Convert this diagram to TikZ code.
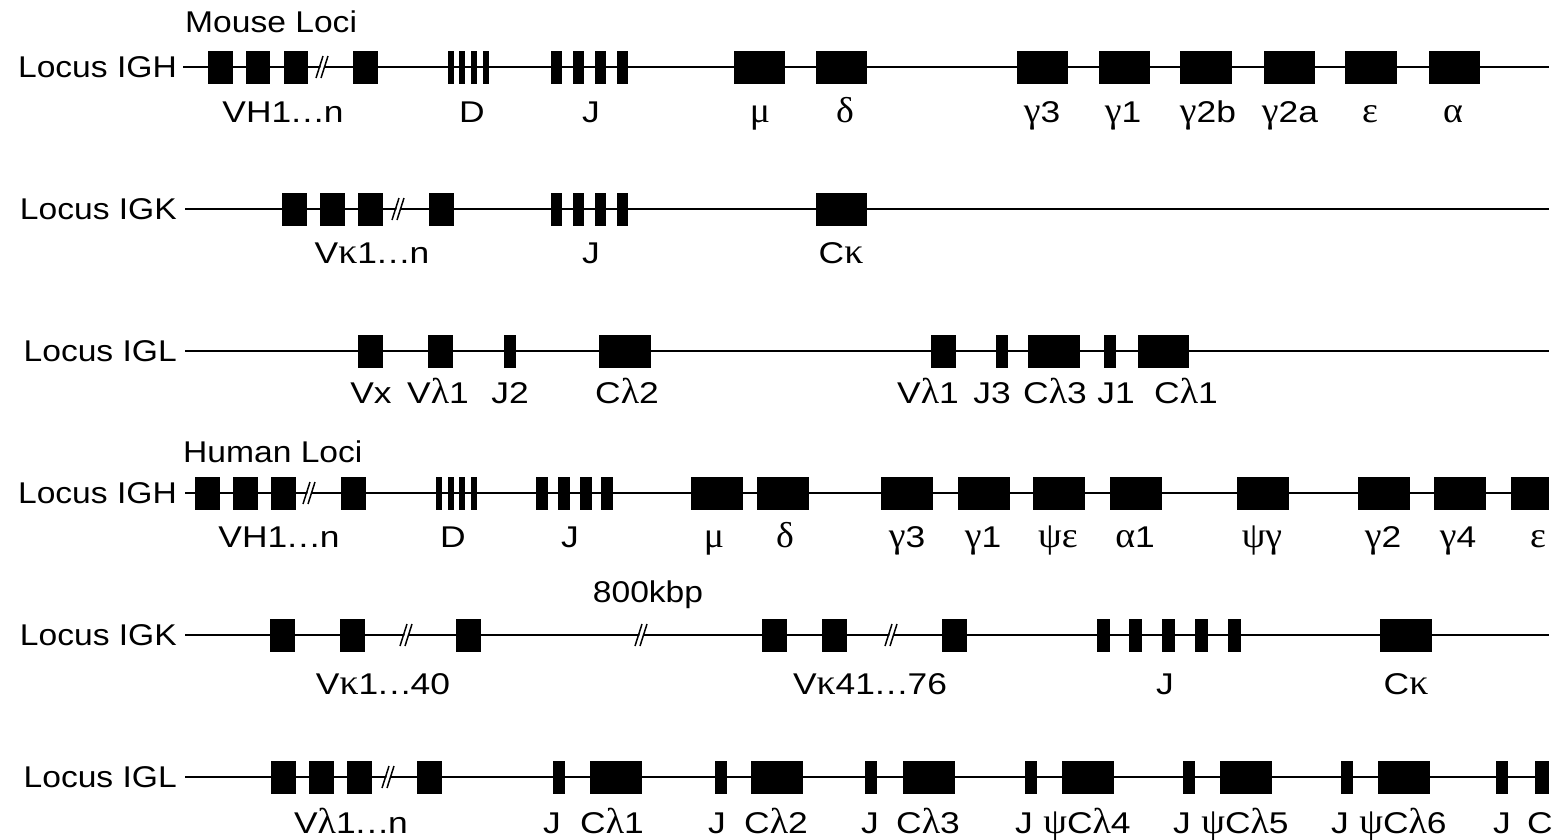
\documentclass[tikz,border=0pt]{standalone}
\usepackage{fontspec}
\setmainfont{Liberation Sans}[FakeStretch=1.12]
\newfontfamily\labfont{Liberation Sans}[FakeStretch=1.18]
\newfontfamily\gr{Liberation Serif}[FakeStretch=1.05,Scale=1.2]
\newcommand\tdots{.\kern1.5pt.\kern1.5pt.}
\tikzset{
  exon/.style={rectangle, fill=black, draw=none, inner sep=0pt, minimum height=33pt},
  chrom/.style={line width=2.6pt, black},
  locus/.style={anchor=base east, inner sep=0pt, font=\fontsize{30}{36}\selectfont},
  title/.style={anchor=base west, inner sep=0pt, font=\fontsize{30}{36}\selectfont},
  lab/.style={anchor=base, inner sep=0pt, font=\labfont\fontsize{30}{36}\selectfont},
  brk/.style={line width=1.5pt, black},
}
\newcommand\brkmark[2]{%
  \fill[white] (#1-4,#2+11) -- (#1+1,#2-11) -- (#1+5,#2-11) -- (#1,#2+11) -- cycle;
  \draw[brk] (#1-6,#2+11) -- (#1+1,#2-11);
  \draw[brk] (#1-1,#2+11) -- (#1+6,#2-11);
}
\begin{document}
\begin{tikzpicture}[x=1pt,y=-1pt]
\useasboundingbox (0,0) rectangle (1561,839);

% ---------------- Mouse ----------------
\node[title] (mouse) at (185,32) {Mouse Loci};

% Row 1: mouse IGH
\node[locus] (loc1) at (177,77.5) {Locus IGH};
\coordinate (r1s) at (183,67); \coordinate (r1e) at (1549,67);
\draw[chrom] (r1s) -- (r1e);
\foreach \x/\w [count=\i] in {220.5/25,258/24,296/24,365.5/25,
  450.5/6,462.3/6,474.1/6,485.9/6,
  556.5/11.5,578.5/11.5,600.5/11.5,622.5/11.5,
  759.5/51,841/51,1042/51,1124/51,1206/52,1289/51,1371/52,1454/51}
  \node[exon, minimum width=\w pt] (r1b\i) at (\x,67) {};
\brkmark{322}{67}
\foreach \x/\t [count=\i] in {283/{VH1\tdots n},472/D,591/J,760/{\gr μ},845/{\gr δ},
  1042/{{\gr γ}3},1123/{{\gr γ}1},1208/{{\gr γ}2b},1290/{{\gr γ}2a},1370/{\gr ε},1453/{\gr α}}
  \node[lab] (r1l\i) at (\x,122.5) {\t};

% Row 2: mouse IGK
\node[locus] (loc2) at (177,219.5) {Locus IGK};
\coordinate (r2s) at (185,209); \coordinate (r2e) at (1549,209);
\draw[chrom] (r2s) -- (r2e);
\foreach \x/\w [count=\i] in {294/25,332/25,370/25,441/25,
  556.5/11.5,578.5/11.5,600.5/11.5,622.5/11.5,841/51}
  \node[exon, minimum width=\w pt] (r2b\i) at (\x,209) {};
\brkmark{398}{209}
\foreach \x/\t [count=\i] in {372/{V{\gr κ}1\tdots n},591/J,841/{C{\gr κ}}}
  \node[lab] (r2l\i) at (\x,263.5) {\t};

% Row 3: mouse IGL
\node[locus] (loc3) at (177,361.5) {Locus IGL};
\coordinate (r3s) at (185,351); \coordinate (r3e) at (1549,351);
\draw[chrom] (r3s) -- (r3e);
\foreach \x/\w [count=\i] in {370/25,440/25,510/12,625/52,943/25,1002/12,1054/52,1110/12,1163/51}
  \node[exon, minimum width=\w pt] (r3b\i) at (\x,351) {};
\foreach \x/\t [count=\i] in {371/Vx,438/{V{\gr λ}1},510/J2,627/{C{\gr λ}2},
  928/{V{\gr λ}1},992/J3,1055/{C{\gr λ}3},1116/J1,1186/{C{\gr λ}1}}
  \node[lab] (r3l\i) at (\x,403.5) {\t};

% ---------------- Human ----------------
\node[title] (human) at (183,462) {Human Loci};

% Row 4: human IGH
\node[locus] (loc4) at (177,503.5) {Locus IGH};
\coordinate (r4s) at (185,493); \coordinate (r4e) at (1549,493);
\draw[chrom] (r4s) -- (r4e);
\foreach \x/\w [count=\i] in {207/25,245/25,283/25,353/25,
  439/6,450.5/6,462/6,473.5/6,
  541.5/12,563.5/12,585.5/12,606.5/12,
  717/52,783/52,907/52,983.5/52,1058.5/52,1136/52,1262.5/52,1383.5/52,1459.5/52,1530/38}
  \node[exon, minimum width=\w pt] (r4b\i) at (\x,493) {};
\brkmark{309}{493}
\foreach \x/\t [count=\i] in {279/{VH1\tdots n},453/D,570/J,714/{\gr μ},785/{\gr δ},
  907/{{\gr γ}3},983/{{\gr γ}1},1058/{\gr ψε},1135/{{\gr α}1},1262/{\gr ψγ},
  1383/{{\gr γ}2},1458/{{\gr γ}4},1538/{\gr ε}}
  \node[lab] (r4l\i) at (\x,547.5) {\t};

% Row 5: human IGK
\node[title, anchor=base] (kbp) at (648,602) {800kbp};
\node[locus] (loc5) at (177,645.5) {Locus IGK};
\coordinate (r5s) at (185,635); \coordinate (r5e) at (1549,635);
\draw[chrom] (r5s) -- (r5e);
\foreach \x/\w [count=\i] in {282/25,352/25,468/25,774/25,834.5/25,954/25,
  1103/13,1135.5/13,1168.5/13,1201/13,1234/13,1406/52}
  \node[exon, minimum width=\w pt] (r5b\i) at (\x,635) {};
\brkmark{406}{635}
\brkmark{641}{635}
\brkmark{891}{635}
\foreach \x/\t [count=\i] in {383/{V{\gr κ}1\tdots 40},870/{V{\gr κ}41\tdots 76},1165/J,1406/{C{\gr κ}}}
  \node[lab] (r5l\i) at (\x,694.5) {\t};

% Row 6: human IGL
\node[locus] (loc6) at (177,787.5) {Locus IGL};
\coordinate (r6s) at (185,777); \coordinate (r6e) at (1549,777);
\draw[chrom] (r6s) -- (r6e);
\foreach \x/\w [count=\i] in {283/25,321/25,359/25,429/25,
  559/12,616/52,721/12,777/52,871/12,929/52,1031/12,1088/52,
  1189/12,1246/52,1347/12,1404/52,1502/12,1542/14}
  \node[exon, minimum width=\w pt] (r6b\i) at (\x,777) {};
\brkmark{388}{777}
\foreach \x/\t [count=\i] in {351/{V{\gr λ}1\tdots n},552/J,612/{C{\gr λ}1},717/J,776/{C{\gr λ}2},
  870/J,928/{C{\gr λ}3},1024/J,1087/{{\gr ψ}C{\gr λ}4},1182/J,1245/{{\gr ψ}C{\gr λ}5},
  1340/J,1403/{{\gr ψ}C{\gr λ}6},1502/J,1540/C}
  \node[lab] (r6l\i) at (\x,833) {\t};
\end{tikzpicture}
\end{document}
